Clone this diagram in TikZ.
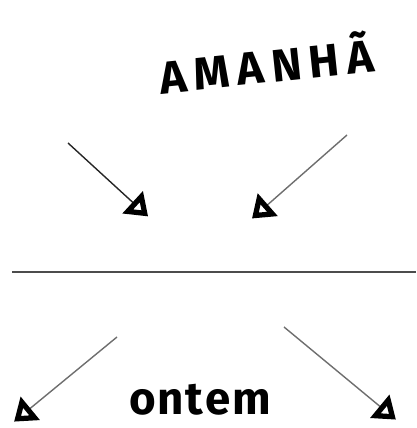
\documentclass[tikz,border=0pt]{standalone}
\usepackage{fontspec}
\setsansfont{Fira Sans}
\usepackage{xcolor}
\usepackage{tikz}
\usetikzlibrary{arrows.meta,positioning}
\definecolor{inkgray}{RGB}{110,110,110}

\begin{document}
\begin{tikzpicture}[
      x=0.02cm, y=-0.02cm,
      word/.style={font=\sffamily\bfseries\fontsize{26}{30}\selectfont, inner sep=0pt},
      arr/.style={draw=inkgray, line width=0.8pt,
        -{Triangle[open, length=0.42cm, width=0.58cm, line width=3pt, color=black, sep=3pt]}}
    ]
      \useasboundingbox (0,0) rectangle (416,428);
      % words
      \node[word, rotate=6] (amanha) at (266,62) {A\,M\,A\,N\,H\,Ã};
      \node[word] (ontem) at (200,400) {o\kern1pt n\kern1pt t\kern1pt e\kern1pt m};
      % arrow ends
      \coordinate (tlA) at (68,143);  \coordinate (tlB) at (152,220);
      \coordinate (trA) at (347,135); \coordinate (trB) at (248,222);
      \coordinate (blA) at (117,337); \coordinate (blB) at (10,425);
      \coordinate (brA) at (284,327); \coordinate (brB) at (400,423);
      \coordinate (lineL) at (12,272); \coordinate (lineR) at (416,272);
      % arrows towards and away from the line
      \draw[arr, draw=black!85] (tlA) -- (tlB);
      \draw[arr] (trA) -- (trB);
      \draw[arr] (blA) -- (blB);
      \draw[arr] (brA) -- (brB);
      \draw[black!70, line width=1.2pt] (lineL) -- (lineR);
    \end{tikzpicture}
\end{document}
